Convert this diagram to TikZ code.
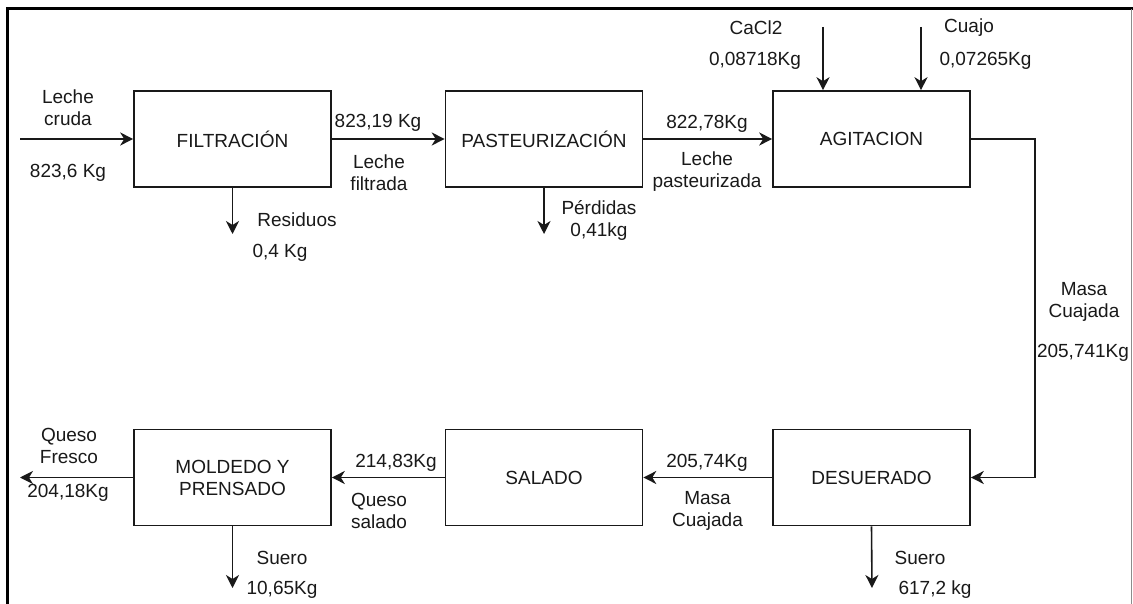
\documentclass[tikz,border=0pt]{standalone}
\usepackage{fontspec}
\setmainfont{Liberation Sans}
\usetikzlibrary{arrows.meta}
\begin{document}
\begin{tikzpicture}[x=1pt,y=-1pt,
  every node/.style={font=\fontsize{19}{22}\selectfont, inner sep=0pt, align=center, text=black!90},
  proc/.style={draw=black!90, line width=1.6pt, minimum width=197pt, minimum height=96pt},
  flow/.style={draw=black!90, line width=1.6pt, -{Stealth[length=13pt,width=13pt,inset=4pt]}}]
\useasboundingbox (0,0) rectangle (1133,604);
\fill[white] (0,0) rectangle (1133,604);
\draw[line width=3pt] (7,604) -- (7,9) -- (1133,9);
\draw[black!45, line width=1pt] (1131.5,9) -- (1131.5,604);

% process boxes
\node[proc] (filt) at (232.5,139) {FILTRACIÓN};
\node[proc] (past) at (544,139) {PASTEURIZACIÓN};
\node[proc] (agit) at (871.5,139) {AGITACION};
\node[proc] (mold) at (232.5,477.5) {MOLDEDO Y\\PRENSADO};
\node[proc] (sal) at (544,477.5) {SALADO};
\node[proc] (des) at (871.5,477.5) {DESUERADO};

% free ends
\coordinate (inL) at (20,139);
\coordinate (outL) at (20,477.5);
\coordinate (fres) at (232.5,234);
\coordinate (pres) at (544,234);
\coordinate (cacl) at (823,27);
\coordinate (cuajo) at (921,27);
\coordinate (turn) at (1035,139);
\coordinate (dres) at (872,588);
\coordinate (mres) at (232.5,588);

% connectors
\draw[flow] (inL) -- (filt.west);
\draw[flow] (filt) -- (past);
\draw[flow] (past) -- (agit);
\draw[flow] (agit.east) -- (turn) |- (des.east);
\draw[flow] (des) -- (sal);
\draw[flow] (sal) -- (mold);
\draw[flow] (mold.west) -- (outL);
\draw[flow] (filt.south) -- (fres);
\draw[flow] (past.south) -- (pres);
\draw[flow] (cacl) -- (cacl |- agit.north);
\draw[flow] (cuajo) -- (cuajo |- agit.north);
\draw[flow] (des.south) -- (dres);
\draw[flow] (mold.south) -- (mres);

% labels
\node (l1) at (68,108) {Leche\\cruda};
\node (l2) at (68,173) {823,6 Kg};
\node (l3) at (378,123) {823,19 Kg};
\node (l4) at (379,173) {Leche\\filtrada};
\node (l5) at (297,220) {Residuos};
\node (l6) at (280,253) {0,4 Kg};
\node (l7) at (707,124) {822,78Kg};
\node (l8) at (707,172) {Leche\\pasteurizada};
\node (l9) at (599,220.5) {Pérdidas\\0,41kg};
\node (l10) at (756,28) {CaCl2};
\node (l11) at (755,61) {0,08718Kg};
\node (l12) at (969,28) {Cuajo};
\node (l13) at (985.5,61) {0,07265Kg};
\node (l14) at (1084,301.5) {Masa\\Cuajada};
\node (l15) at (1083,353) {205,741Kg};
\node (l16) at (707,463) {205,74Kg};
\node (l17) at (707.5,510.5) {Masa\\Cuajada};
\node (l18) at (396,463) {214,83Kg};
\node (l19) at (379,510.5) {Queso\\salado};
\node (l20) at (69,446) {Queso\\Fresco};
\node (l21) at (68,493) {204,18Kg};
\node (l22) at (282,558) {Suero};
\node (l23) at (282,590) {10,65Kg};
\node (l24) at (920,558) {Suero};
\node (l25) at (935,590) {617,2 kg};
\end{tikzpicture}
\end{document}
